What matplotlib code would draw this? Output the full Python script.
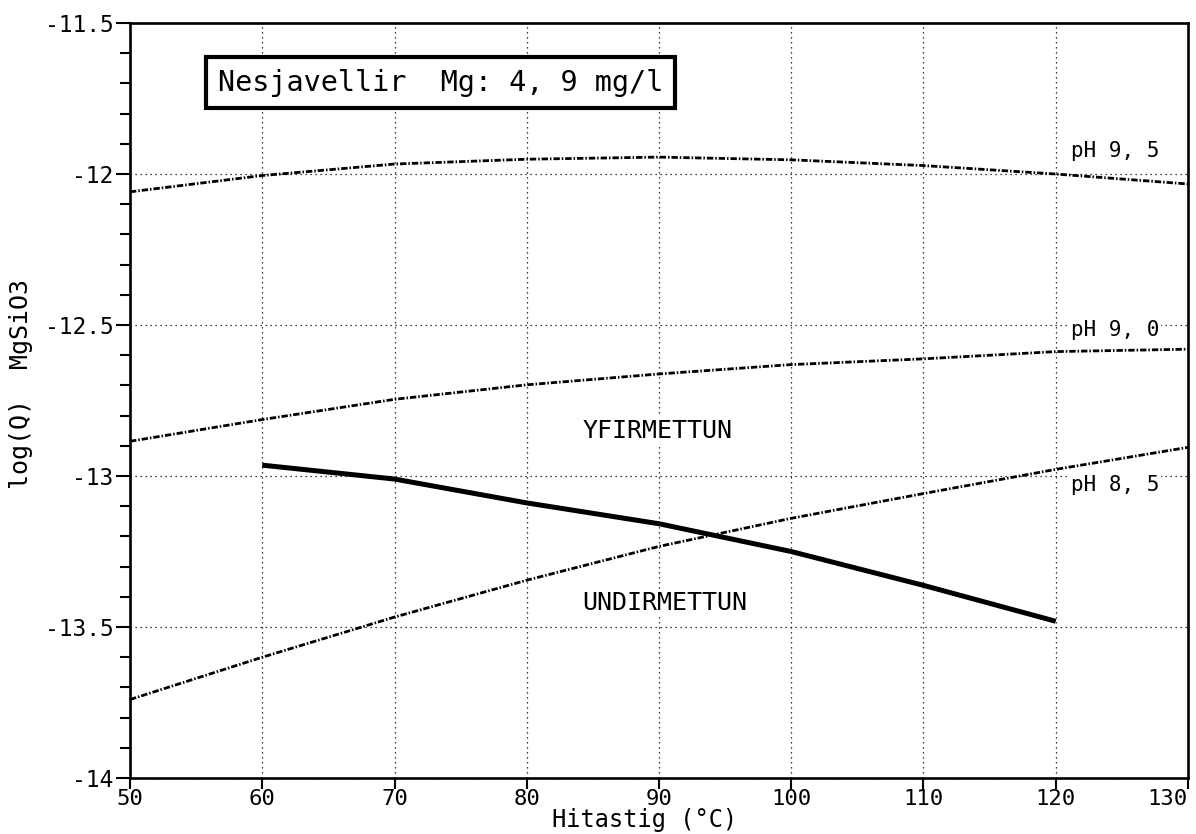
import matplotlib
matplotlib.use('Agg')
import matplotlib.pyplot as plt
from matplotlib.ticker import MultipleLocator, FuncFormatter

# Hitastig (C) og log(Q) MgSiO3 fyrir mismunandi pH
temp = [50, 60, 70, 80, 90, 100, 110, 120, 130]
ph95 = [-12.059, -12.005, -11.967, -11.951, -11.944, -11.953, -11.972, -12.0, -12.033]
ph90 = [-12.885, -12.813, -12.746, -12.698, -12.662, -12.631, -12.612, -12.588, -12.58]
ph85 = [-13.74, -13.60, -13.467, -13.345, -13.233, -13.14, -13.058, -12.978, -12.905]

# leysni (log K) - heila linan
sat_temp = [60, 70, 80, 90, 100, 110, 120]
sat_logk = [-12.964, -13.01, -13.089, -13.158, -13.25, -13.362, -13.481]

xticks = [50, 60, 70, 80, 90, 100, 110, 120, 130]
xtick_labels = ['50', '60', '70', '80', '90', '100', '110', '120', '130']

ph_labels = ['pH 9, 5', 'pH 9, 0', 'pH 8, 5']
ph_label_y = [-11.923, -12.515, -13.03]

title = 'Nesjavellir  Mg: 4, 9 mg/l'

mono = 'DejaVu Sans Mono'
plt.rcParams['font.family'] = mono

fig = plt.figure(figsize=(11.96, 8.34), dpi=100)
ax = fig.add_axes([0.1087, 0.0671, 0.8846, 0.9053])

dashdot = (0, (2.3, 0.7, 0.55, 0.7))
for y in (ph95, ph90, ph85):
    ax.plot(temp, y, color='black', lw=2.0, ls=dashdot, zorder=3)
ax.plot(sat_temp, sat_logk, color='black', lw=3.6, solid_capstyle='butt', zorder=3)

ax.set_xlim(50, 130)
ax.set_ylim(-14, -11.5)

ax.set_xticks(xticks, xtick_labels)
ax.yaxis.set_major_locator(MultipleLocator(0.5))
ax.yaxis.set_minor_locator(MultipleLocator(0.1))
ax.yaxis.set_major_formatter(FuncFormatter(lambda v, p: '%g' % v))

ax.tick_params(axis='y', which='major', direction='out', length=10, width=1.5,
               labelsize=16.5, pad=2)
ax.tick_params(axis='y', which='minor', direction='out', length=7.5, width=1.5)
ax.tick_params(axis='x', which='major', direction='out', length=8, width=1.5,
               labelsize=16, pad=0)

# sidasti x-merkimidinn innan myndar
for t in ax.get_xticklabels():
    if t.get_text() == '130':
        t.set_horizontalalignment('right')

ax.grid(True, which='major', color='black', lw=0.9, ls=(0, (1, 3)))
ax.set_axisbelow(True)

for s in ax.spines.values():
    s.set_linewidth(1.9)

ax.set_xlabel('Hitastig (°C)', fontsize=17)
ax.xaxis.set_label_coords(0.486, -0.040)
ax.set_ylabel('log(Q)  MgSiO3', fontsize=18)
ax.yaxis.set_label_coords(-0.092, 0.522)

# merkingar
for lab, y in zip(ph_labels, ph_label_y):
    ax.text(124.5, y, lab, fontsize=15, ha='center', va='center', zorder=4,
            bbox=dict(facecolor='white', edgecolor='none', pad=1))

ax.text(89.9, -12.85, 'YFIRMETTUN', fontsize=18, ha='center', va='center', zorder=4,
        bbox=dict(facecolor='white', edgecolor='none', pad=1))
ax.text(90.4, -13.42, 'UNDIRMETTUN', fontsize=18, ha='center', va='center', zorder=4,
        bbox=dict(facecolor='white', edgecolor='none', pad=1))

ax.text(73.5, -11.697, title, fontsize=20.5, ha='center', va='center', zorder=5,
        bbox=dict(boxstyle='square,pad=0.42', facecolor='white', edgecolor='black', lw=3))

fig.savefig('out.png', dpi=100)
